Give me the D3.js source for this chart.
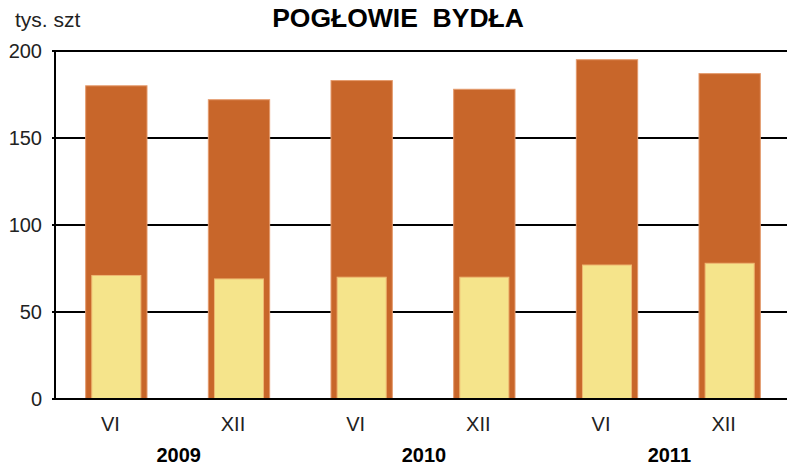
<!DOCTYPE html>
<html><head><meta charset="utf-8">
<script src="https://cdn.jsdelivr.net/npm/d3@7"></script>
<style>body{margin:0;background:#fff}svg{display:block}</style>
</head><body>
<svg id="c" width="787" height="465"></svg>
<script>
const months = ["VI","XII","VI","XII","VI","XII"];
const years = ["2009","2010","2011"];
const totalValues = [180,172,183,178,195,187];
const innerValues = [71,69,70,70,77,78];
const yTicks = [0,50,100,150,200];

const svg = d3.select("#c");
const font = "Liberation Sans, Arial, sans-serif";
const idx = months.map((m,i)=>i);
const x = d3.scaleBand().domain(idx).range([55,791]).paddingInner(0.5).paddingOuter(0.25);
const y = d3.scaleLinear().domain([0,200]).range([399,51]);

// grid
svg.append("g").selectAll("line").data(yTicks).join("line")
  .attr("x1",52).attr("x2",787).attr("y1",d=>y(d)).attr("y2",d=>y(d))
  .attr("stroke","#000").attr("stroke-width",2);

// bars
svg.append("g").selectAll("rect").data(idx).join("rect")
  .attr("x",i=>x(i)).attr("width",x.bandwidth())
  .attr("y",i=>y(totalValues[i])).attr("height",i=>y(0)-y(totalValues[i]))
  .attr("fill","#C8662A").attr("stroke","#E49A6C").attr("stroke-width",1);
const inset = x.bandwidth()*0.1;
svg.append("g").selectAll("rect").data(idx).join("rect")
  .attr("x",i=>x(i)+inset).attr("width",x.bandwidth()-2*inset)
  .attr("y",i=>y(innerValues[i])).attr("height",i=>y(0)-y(innerValues[i]))
  .attr("fill","#F5E48B").attr("stroke","#EFB872").attr("stroke-width",1);

// baseline redraw and axis
svg.append("line").attr("x1",52).attr("x2",787).attr("y1",y(0)).attr("y2",y(0)).attr("stroke","#000").attr("stroke-width",2);
svg.append("line").attr("x1",55).attr("x2",55).attr("y1",y(200)-1).attr("y2",y(0)+1).attr("stroke","#000").attr("stroke-width",2);

// y labels
svg.append("g").selectAll("text").data(yTicks).join("text")
  .attr("x",42).attr("y",d=>y(d)+7).attr("text-anchor","end")
  .attr("font-family",font).attr("font-size",20).attr("fill","#222").text(d=>d);

// month labels
svg.append("g").selectAll("text").data(idx).join("text")
  .attr("x",i=>x(i)+x.bandwidth()/2-6).attr("y",431).attr("text-anchor","middle")
  .attr("font-family",font).attr("font-size",20).attr("fill","#222").text(i=>months[i]);

// year labels
svg.append("g").selectAll("text").data(years).join("text")
  .attr("x",(d,k)=>(x(2*k)+x(2*k+1)+x.bandwidth())/2+1).attr("y",462).attr("text-anchor","middle")
  .attr("font-family",font).attr("font-size",20).attr("font-weight","bold").attr("fill","#000").text(d=>d);

// title & unit
svg.append("text").attr("x",398).attr("y",27).attr("text-anchor","middle")
  .attr("font-family",font).attr("font-size",26.5).attr("font-weight","bold").attr("fill","#000")
  .attr("xml:space","preserve").style("white-space","pre").text("POGŁOWIE  BYDŁA");
svg.append("text").attr("x",15).attr("y",27)
  .attr("font-family",font).attr("font-size",21).attr("fill","#222").text("tys. szt");
</script>
</body></html>
